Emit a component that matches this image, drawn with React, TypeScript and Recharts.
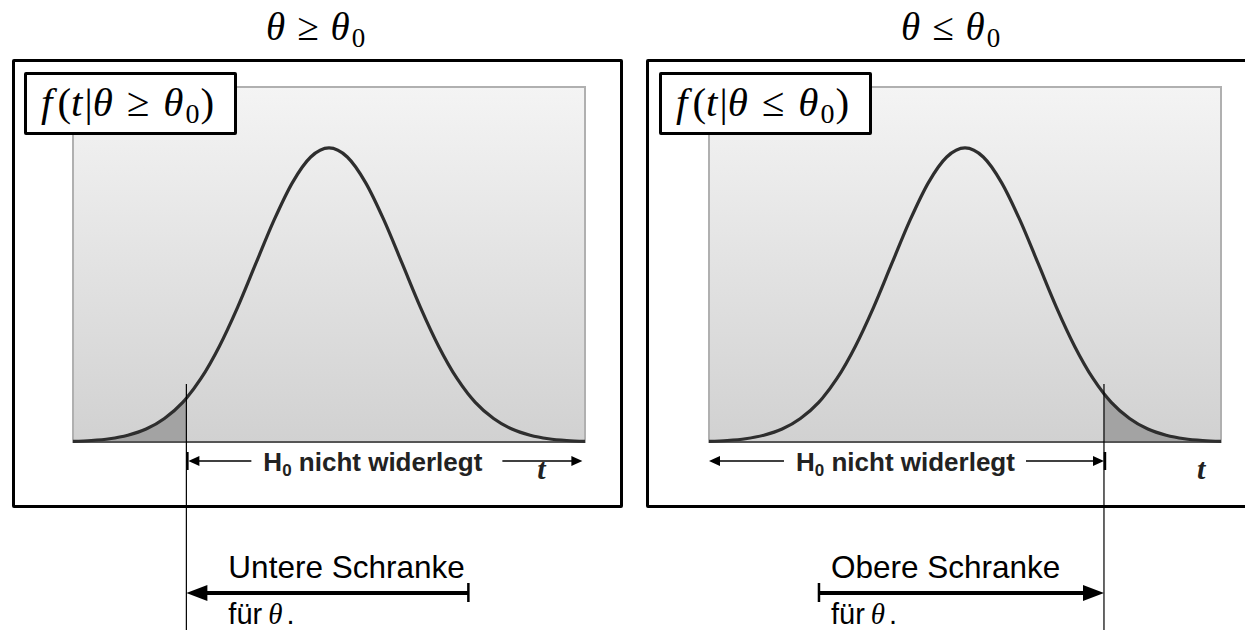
import React from 'react';
import {
  ComposedChart,
  Line,
  Area,
  XAxis,
  YAxis,
  CartesianGrid,
  ReferenceArea,
  ReferenceLine,
} from 'recharts';

// t values and the bell curve heights (peak = 1)
const tGrid = [
  -3.5, -3.25, -3, -2.75, -2.5, -2.25, -2, -1.95, -1.75, -1.5, -1.25, -1, -0.75, -0.5, -0.25, 0,
  0.25, 0.5, 0.75, 1, 1.25, 1.5, 1.75, 1.9, 2, 2.25, 2.5, 2.75, 3, 3.25, 3.5,
];
const density = [
  0.002, 0.005, 0.011, 0.023, 0.044, 0.08, 0.135, 0.149, 0.216, 0.325, 0.458, 0.607, 0.755, 0.882,
  0.969, 1, 0.969, 0.882, 0.755, 0.607, 0.458, 0.325, 0.216, 0.164, 0.135, 0.08, 0.044, 0.023,
  0.011, 0.005, 0.002,
];
// critical values: lower bound (left panel), upper bound (right panel)
const critValues = [-1.95, 1.9];
const tDomain: [number, number] = [-3.5, 3.5];
const yDomain: [number, number] = [0, 1.207];

const SANS = '"Liberation Sans", Arial, sans-serif';
const SERIF = '"Liberation Serif", "Times New Roman", serif';

type Side = 'lower' | 'upper';

function buildRows(crit: number, side: Side) {
  return tGrid.map((t, i) => ({
    t,
    f: density[i],
    shade: (side === 'lower' ? t <= crit : t >= crit) ? density[i] : null,
  }));
}

function H0Text({ x, y }: { x: number; y: number }) {
  return (
    <text x={x} y={y} fontFamily={SANS} fontWeight="bold" fontSize={26} fill="#222">
      H
      <tspan fontSize={17} dy={5}>0</tspan>
      <tspan dy={-5}> nicht widerlegt</tspan>
    </text>
  );
}

function FuerTheta({ x, y }: { x: number; y: number }) {
  return (
    <text x={x} y={y} fontFamily={SANS} fontSize={29} fill="#000">
      für
      <tspan fontFamily={SERIF} fontStyle="italic" dx={6}>θ</tspan>
      <tspan dx={4}>.</tspan>
    </text>
  );
}

function CritMarks(props: any) {
  const { x1, y1, y2, side } = props;
  const x = x1;
  const yb = Math.max(y1, y2);
  const yH = yb + 19; // H0 arrow row
  const yS = yb + 151; // bound arrow row
  const small = (tip: number, dir: number) =>
    `${tip},${yH} ${tip + dir * 11},${yH - 5} ${tip + dir * 11},${yH + 5}`;
  const big = (tip: number, dir: number) =>
    `${tip},${yS} ${tip + dir * 21},${yS - 8} ${tip + dir * 21},${yS + 8}`;

  if (side === 'lower') {
    return (
      <g>
        <line x1={x} x2={x} y1={yb - 58} y2={yb + 200} stroke="#000" strokeWidth={1.2} />
        <line x1={x + 1} x2={x + 1} y1={yH - 9} y2={yH + 9} stroke="#000" strokeWidth={2.5} />
        <line x1={x + 10} x2={x + 65} y1={yH} y2={yH} stroke="#000" strokeWidth={1.5} />
        <polygon points={small(x + 2, 1)} fill="#000" />
        <H0Text x={x + 77} y={yH + 10} />
        <line x1={x + 316} x2={x + 386} y1={yH} y2={yH} stroke="#000" strokeWidth={1.5} />
        <polygon points={small(x + 396, -1)} fill="#000" />
        <text x={x + 351} y={yH + 18} fontFamily={SERIF} fontStyle="italic" fontWeight="bold" fontSize={30} fill="#222">t</text>
        <text x={x + 42} y={yS - 15} fontFamily={SANS} fontSize={31.5} fill="#000">Untere Schranke</text>
        <line x1={x + 18} x2={x + 282} y1={yS} y2={yS} stroke="#000" strokeWidth={4} />
        <polygon points={big(x, 1)} fill="#000" />
        <line x1={x + 282} x2={x + 282} y1={yS - 10} y2={yS + 9} stroke="#000" strokeWidth={2.5} />
        <FuerTheta x={x + 42} y={yS + 31} />
      </g>
    );
  }
  return (
    <g>
      <line x1={x} x2={x} y1={yb - 58} y2={yb + 200} stroke="#000" strokeWidth={1.2} />
      <line x1={x + 1} x2={x + 1} y1={yH - 9} y2={yH + 9} stroke="#000" strokeWidth={2.5} />
      <line x1={x - 78} x2={x - 10} y1={yH} y2={yH} stroke="#000" strokeWidth={1.5} />
      <polygon points={small(x, -1)} fill="#000" />
      <H0Text x={x - 308} y={yH + 10} />
      <line x1={x - 385} x2={x - 320} y1={yH} y2={yH} stroke="#000" strokeWidth={1.5} />
      <polygon points={small(x - 395, 1)} fill="#000" />
      <text x={x + 93} y={yH + 18} fontFamily={SERIF} fontStyle="italic" fontWeight="bold" fontSize={30} fill="#222">t</text>
      <text x={x - 273} y={yS - 15} fontFamily={SANS} fontSize={31.5} fill="#000">Obere Schranke</text>
      <line x1={x - 285} x2={x - 18} y1={yS} y2={yS} stroke="#000" strokeWidth={4} />
      <polygon points={big(x, -1)} fill="#000" />
      <line x1={x - 285} x2={x - 285} y1={yS - 10} y2={yS + 9} stroke="#000" strokeWidth={2.5} />
      <FuerTheta x={x - 273} y={yS + 31} />
    </g>
  );
}

interface PanelProps {
  id: string;
  left: number;
  width: number;
  marginLeft: number;
  marginRight: number;
  crit: number;
  side: Side;
}

function Panel({ id, left, width, marginLeft, marginRight, crit, side }: PanelProps) {
  const rows = buildRows(crit, side);
  return (
    <div style={{ position: 'absolute', left, top: 60 }}>
      <ComposedChart
        width={width}
        height={570}
        data={rows}
        margin={{ top: 27, right: marginRight, bottom: 188, left: marginLeft }}
      >
        <defs>
          <linearGradient id={`bg-${id}`} x1="0" y1="0" x2="0" y2="1">
            <stop offset="0%" stopColor="#f4f4f4" />
            <stop offset="100%" stopColor="#d1d1d1" />
          </linearGradient>
        </defs>
        <CartesianGrid horizontal={false} vertical={false} fill={`url(#bg-${id})`} fillOpacity={1} />
        <XAxis dataKey="t" type="number" domain={tDomain} hide />
        <YAxis type="number" domain={yDomain} hide />
        <ReferenceArea
          x1={tDomain[0]}
          x2={tDomain[1]}
          y1={yDomain[0]}
          y2={yDomain[1]}
          fill="none"
          stroke="#b0b0b0"
          strokeWidth={2}
        />
        <Area
          dataKey="shade"
          type="monotone"
          fill="#a3a3a3"
          fillOpacity={1}
          stroke="none"
          isAnimationActive={false}
        />
        <ReferenceLine y={0} stroke="#555" strokeWidth={2} />
        <Line
          dataKey="f"
          type="monotone"
          stroke="#2e2e2e"
          strokeWidth={3.2}
          dot={false}
          activeDot={false}
          isAnimationActive={false}
        />
        <ReferenceLine x={crit} shape={(p: any) => <CritMarks {...p} side={side} />} />
      </ComposedChart>
    </div>
  );
}

function Title({ left, rel }: { left: number; rel: string }) {
  return (
    <div
      style={{
        position: 'absolute',
        left,
        top: 6,
        fontFamily: SERIF,
        fontSize: 39,
        lineHeight: '42px',
        whiteSpace: 'nowrap',
      }}
    >
      <i>θ</i>
      <span style={{ margin: '0 12px' }}>{rel}</span>
      <i>θ</i>
      <span style={{ fontSize: 27, position: 'relative', top: 7, marginLeft: 2 }}>0</span>
    </div>
  );
}

function LabelBox({ left, rel }: { left: number; rel: string }) {
  return (
    <div
      style={{
        position: 'absolute',
        left,
        top: 72,
        width: 213,
        height: 63,
        boxSizing: 'border-box',
        border: '3.5px solid #000',
        borderRadius: 2,
        background: '#fff',
        fontFamily: SERIF,
        fontSize: 41,
        lineHeight: '54px',
        paddingLeft: 14,
        whiteSpace: 'nowrap',
      }}
    >
      <i style={{ marginRight: 5 }}>f</i>(<i style={{ marginRight: 2 }}>t</i>|<i>θ</i>
      <span style={{ margin: '0 14px' }}>{rel}</span>
      <i>θ</i>
      <span style={{ fontSize: 28, position: 'relative', top: 7, marginLeft: 2, marginRight: 1 }}>0</span>)
    </div>
  );
}

export default function App() {
  return (
    <div
      style={{
        position: 'absolute',
        left: 0,
        top: 0,
        width: 1245,
        height: 630,
        overflow: 'hidden',
        background: '#fff',
      }}
    >
      <Title left={266} rel="≥" />
      <Title left={901} rel="≤" />
      <div
        style={{
          position: 'absolute',
          left: 12,
          top: 59,
          width: 611,
          height: 449,
          boxSizing: 'border-box',
          border: '3.5px solid #000',
          borderRadius: 2,
        }}
      />
      <div
        style={{
          position: 'absolute',
          left: 646,
          top: 59,
          width: 700,
          height: 449,
          boxSizing: 'border-box',
          border: '3.5px solid #000',
          borderRadius: 2,
        }}
      />
      <Panel id="lo" left={13} width={609} marginLeft={60} marginRight={37} crit={critValues[0]} side="lower" />
      <Panel id="up" left={648} width={597} marginLeft={61} marginRight={24} crit={critValues[1]} side="upper" />
      <LabelBox left={24} rel="≥" />
      <LabelBox left={659} rel="≤" />
    </div>
  );
}
